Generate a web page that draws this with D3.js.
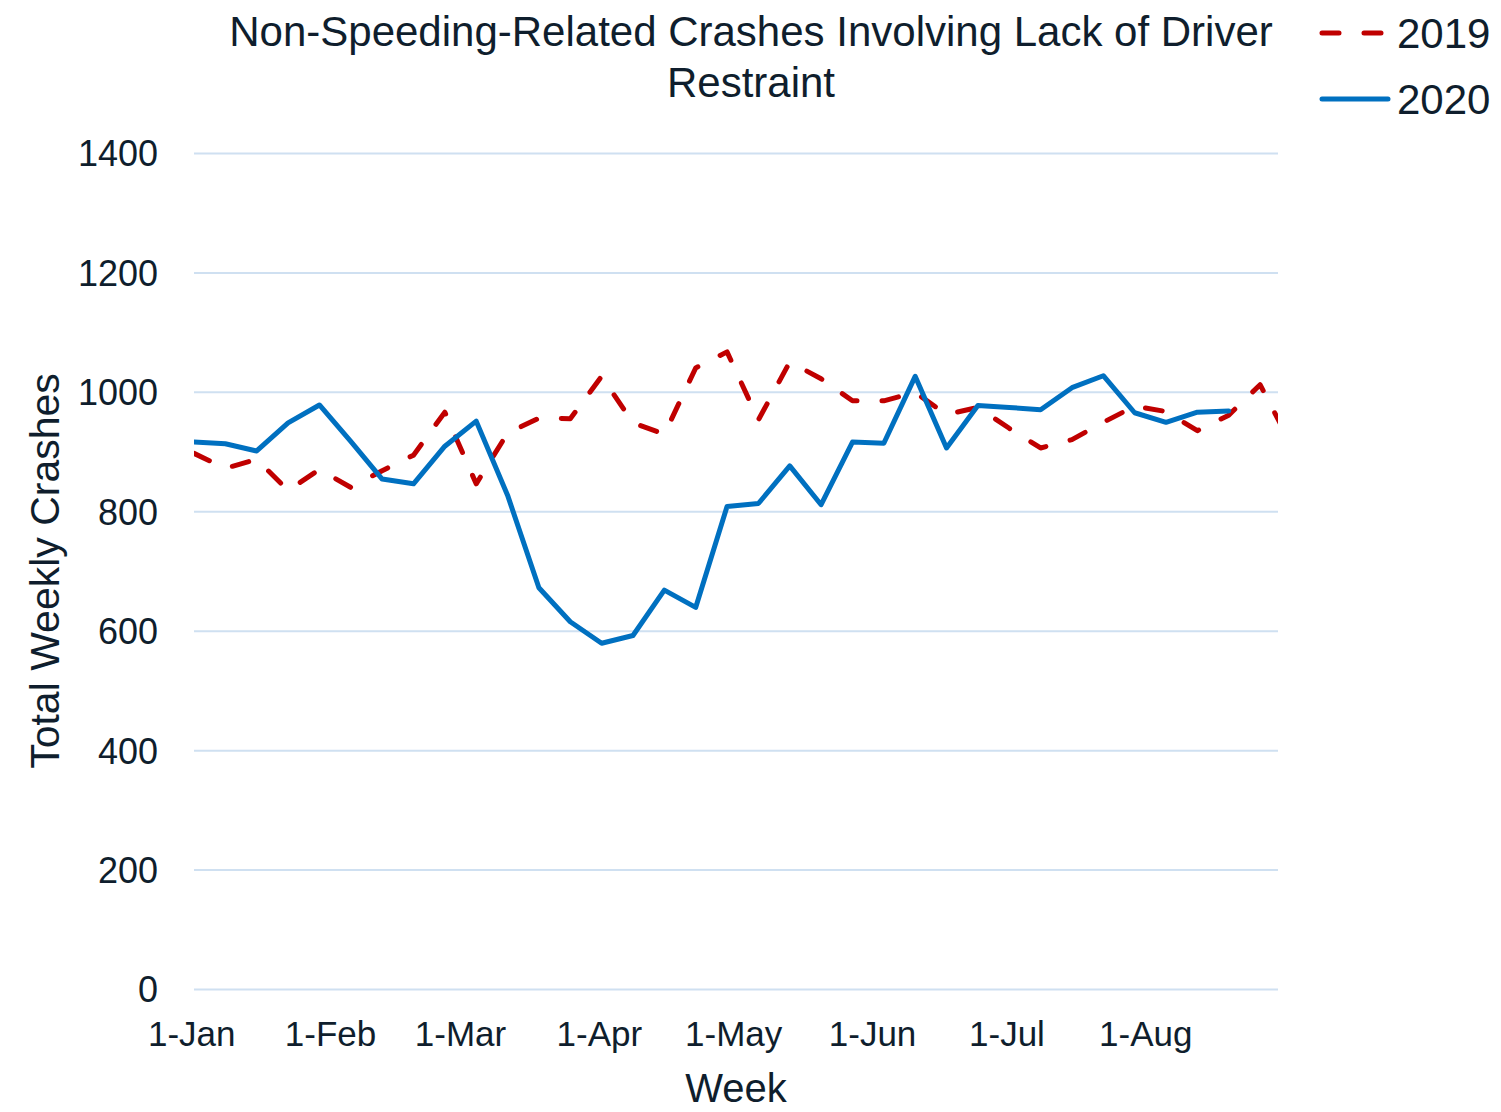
<!DOCTYPE html>
<html>
<head>
<meta charset="utf-8">
<script src="https://cdn.jsdelivr.net/npm/d3@7"></script>
<style>
  body { margin: 0; background: #fff; }
  text { font-family: "Liberation Sans", Arial, sans-serif; fill: #0f1e2d; }
</style>
</head>
<body>
<div id="chart"></div>
<script>
// weekly categories (week start dates)
let arrWeeks = ["2020-01-01", "2020-01-08", "2020-01-15", "2020-01-22", "2020-01-29",
  "2020-02-05", "2020-02-12", "2020-02-19", "2020-02-26", "2020-03-04", "2020-03-11",
  "2020-03-18", "2020-03-25", "2020-04-01", "2020-04-08", "2020-04-15", "2020-04-22",
  "2020-04-29", "2020-05-06", "2020-05-13", "2020-05-20", "2020-05-27", "2020-06-03",
  "2020-06-10", "2020-06-17", "2020-06-24", "2020-07-01", "2020-07-08", "2020-07-15",
  "2020-07-22", "2020-07-29", "2020-08-05", "2020-08-12", "2020-08-19", "2020-08-26",
  "2020-09-02"];

// series values
let arr2019 = [897, 872, 887, 835, 870, 840, 868, 894, 966, 846, 931, 956, 955, 1026,
  948, 929, 1040, 1067, 953, 1050, 1022, 985, 985, 999, 962, 974, 939, 906, 920, 949,
  976, 967, 935, 961, 1012, 911];
let arr2020 = [916, 913, 901, 948, 978, 917, 854, 846, 909, 951, 827, 672, 615, 579,
  592, 668, 639, 808, 813, 876, 811, 916, 914, 1026, 906, 977, 974, 970, 1007, 1027,
  965, 949, 966, 968];

let arrSeries = ["2019", "2020"];
let arrYTicks = [0, 200, 400, 600, 800, 1000, 1200, 1400];
let arrXDomain = ["2020-01-01", "2020-08-30"];

// sizes
let intTotalWid = 1501;
let intTotalHgt = 1112;
let objMargin = { top: 153, right: 223, bottom: 123, left: 194 };
let intActiveWid = intTotalWid - objMargin.left - objMargin.right;
let intActiveHgt = intTotalHgt - objMargin.top - objMargin.bottom;

let fnParse = d3.timeParse("%Y-%m-%d");

let svg = d3.select("#chart")
  .append("svg")
  .attr("width", intTotalWid)
  .attr("height", intTotalHgt);

let g = svg.append("g")
  .attr("transform", `translate(${objMargin.left}, ${objMargin.top})`);

// 1) scales
let fnXScale = d3.scaleTime()
  .domain(arrXDomain.map(fnParse))
  .range([0, intActiveWid]);

let fnYScale = d3.scaleLinear()
  .domain([0, 1400])
  .range([intActiveHgt, 0]);

// 2) gridlines via y axis
let gY = g.append("g")
  .call(d3.axisLeft(fnYScale).tickValues(arrYTicks).tickFormat(d3.format("d")).tickSize(-intActiveWid).tickPadding(36));
gY.select(".domain").remove();
gY.selectAll("line").attr("stroke", "#cfe0f1").attr("stroke-width", 2);
gY.selectAll("text").attr("font-size", 36).attr("dy", "0.36em");

// 3) x axis, month ticks
let gX = g.append("g")
  .attr("transform", `translate(0, ${intActiveHgt})`)
  .call(d3.axisBottom(fnXScale).ticks(d3.timeMonth.every(1)).tickFormat(d3.timeFormat("%-d-%b")).tickSize(0).tickPadding(32));
gX.select(".domain").remove();
gX.selectAll("text").attr("font-size", 35).attr("dx", "-0.08em");

// 4) clip to plot area
g.append("clipPath").attr("id", "plotclip")
  .append("rect").attr("x", 0).attr("y", -10).attr("width", intActiveWid).attr("height", intActiveHgt + 20);

let fnLine = d3.line()
  .x((d, i) => fnXScale(fnParse(arrWeeks[i])))
  .y(d => fnYScale(d));

g.append("path")
  .datum(arr2019)
  .attr("clip-path", "url(#plotclip)")
  .attr("d", fnLine)
  .attr("fill", "none")
  .attr("stroke", "#c00000")
  .attr("stroke-width", 5)
  .attr("stroke-linecap", "round")
  .attr("stroke-linejoin", "round")
  .attr("stroke-dasharray", "17,25");

g.append("path")
  .datum(arr2020)
  .attr("clip-path", "url(#plotclip)")
  .attr("d", fnLine)
  .attr("fill", "none")
  .attr("stroke", "#0070c0")
  .attr("stroke-width", 5)
  .attr("stroke-linecap", "round")
  .attr("stroke-linejoin", "round");

// 5) titles
let title = svg.append("text")
  .attr("text-anchor", "middle")
  .attr("font-size", 42);
title.append("tspan").attr("x", 751).attr("y", 46).text("Non-Speeding-Related Crashes Involving Lack of Driver");
title.append("tspan").attr("x", 751).attr("y", 97).text("Restraint");

svg.append("text")
  .attr("transform", `translate(59, ${objMargin.top + intActiveHgt / 2}) rotate(-90)`)
  .attr("text-anchor", "middle")
  .attr("font-size", 41)
  .text("Total Weekly Crashes");

svg.append("text")
  .attr("x", objMargin.left + intActiveWid / 2)
  .attr("y", 1102)
  .attr("text-anchor", "middle")
  .attr("font-size", 40)
  .text("Week");

// 6) legend
let objLegend = [
  { name: arrSeries[0], color: "#c00000", dash: "17,25", y: 33 },
  { name: arrSeries[1], color: "#0070c0", dash: null, y: 99 }
];
let gLeg = svg.append("g");
objLegend.forEach(obj => {
  gLeg.append("line")
    .attr("x1", 1322).attr("x2", 1388)
    .attr("y1", obj.y).attr("y2", obj.y)
    .attr("stroke", obj.color)
    .attr("stroke-width", 5)
    .attr("stroke-linecap", "round")
    .attr("stroke-dasharray", obj.dash);
  gLeg.append("text")
    .attr("x", 1397)
    .attr("y", obj.y + 15)
    .attr("font-size", 42)
    .text(obj.name);
});
</script>
</body>
</html>
